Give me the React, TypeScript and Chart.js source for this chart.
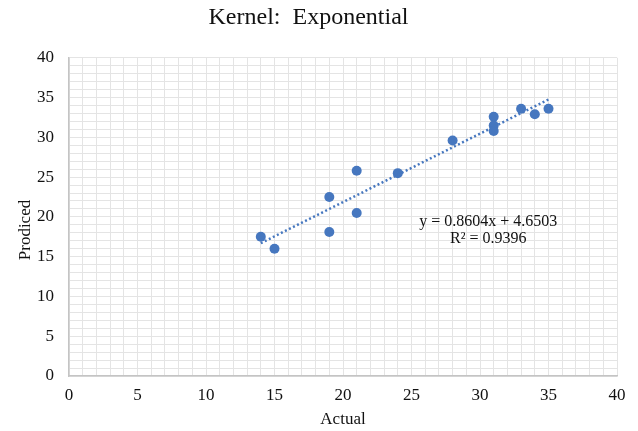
import React, { useEffect, useRef } from "react";
import { Chart, registerables } from "chart.js";

Chart.register(...registerables);

const actual = [14, 15, 19, 19, 21, 21, 24, 28, 31, 31, 31, 33, 34, 35];
const predicted = [17.5, 16.0, 22.5, 18.1, 25.8, 20.5, 25.5, 29.6, 32.6, 31.5, 30.8, 33.6, 32.9, 33.6];

const slope = 0.8604;
const intercept = 4.6503;
const trendFrom = 14;
const trendTo = 35;

const titleText = "Kernel:  Exponential";
const xTitle = "Actual";
const yTitle = "Prodiced";
const eqText = "y = 0.8604x + 4.6503";
const r2Text = "R\u00B2 = 0.9396";

const axisMin = 0;
const axisMax = 40;
const labelStep = 5;

const SERIF = '"Liberation Serif", "Times New Roman", serif';
const BLUE = "#4677bf";

const textPlugin = {
  id: "textPlugin",
  afterDraw(chart: any) {
    const { ctx, scales } = chart;
    const x = scales.x;
    const y = scales.y;
    ctx.save();
    ctx.fillStyle = "#111";
    ctx.textAlign = "center";
    ctx.textBaseline = "middle";
    ctx.font = `16px ${SERIF}`;
    const ex = x.getPixelForValue(30.6);
    const ey = y.getPixelForValue(19.4);
    ctx.fillText(eqText, ex, ey);
    ctx.fillText(r2Text, ex, ey + 17);
    ctx.font = `17px ${SERIF}`;
    ctx.translate(26, 230);
    ctx.rotate(-Math.PI / 2);
    ctx.fillText(yTitle, 0, 0);
    ctx.restore();
  },
};

export default function App() {
  const ref = useRef<HTMLCanvasElement>(null);
  useEffect(() => {
    if (!ref.current) return;
    const points = actual.map((a, i) => ({ x: a, y: predicted[i] }));
    const trend = [
      { x: trendFrom, y: slope * trendFrom + intercept },
      { x: trendTo, y: slope * trendTo + intercept },
    ];
    const tickCb = (v: any) => (Number(v) % labelStep === 0 ? String(v) : "");
    const chart = new Chart(ref.current, {
      type: "scatter",
      data: {
        datasets: [
          {
            type: "line",
            data: trend,
            borderColor: BLUE,
            borderWidth: 2.5,
            borderDash: [2, 2.5],
            pointRadius: 0,
            fill: false,
          } as any,
          {
            data: points,
            backgroundColor: BLUE,
            borderColor: BLUE,
            pointRadius: 5,
            borderWidth: 0,
          },
        ],
      },
      options: {
        animation: false,
        responsive: false,
        events: [],
        layout: { padding: { left: 0, right: 21, top: 0, bottom: 0 } },
        plugins: {
          legend: { display: false },
          tooltip: { enabled: false },
          title: {
            display: true,
            text: titleText,
            color: "#111",
            font: { family: SERIF, size: 24, weight: "normal" },
            padding: { top: 3, bottom: 26 },
          },
        },
        scales: {
          x: {
            type: "linear",
            min: axisMin,
            max: axisMax,
            afterFit: (s: any) => {
              s.height = 55;
            },
            ticks: {
              stepSize: 1,
              autoSkip: false,
              maxRotation: 0,
              callback: tickCb,
              color: "#111",
              font: { family: SERIF, size: 17 },
              padding: 9,
            },
            grid: { color: "#e4e4e4", lineWidth: 1, drawTicks: false },
            border: { color: "#c4c4c4", width: 1.5 },
            title: {
              display: true,
              text: xTitle,
              color: "#111",
              font: { family: SERIF, size: 17 },
              padding: { top: 0, bottom: 1 },
            },
          },
          y: {
            type: "linear",
            min: axisMin,
            max: axisMax,
            afterFit: (s: any) => {
              s.width = 69;
            },
            ticks: {
              stepSize: 1,
              autoSkip: false,
              callback: tickCb,
              color: "#111",
              font: { family: SERIF, size: 17 },
              padding: 15,
            },
            grid: { color: "#e4e4e4", lineWidth: 1, drawTicks: false },
            border: { color: "#c4c4c4", width: 1.5 },
          },
        },
      },
      plugins: [textPlugin],
    });
    return () => chart.destroy();
  }, []);
  return (
    <div style={{ position: "fixed", left: 0, top: 0, width: 638, height: 431, background: "#fff" }}>
      <canvas ref={ref} width={638} height={431} />
    </div>
  );
}
